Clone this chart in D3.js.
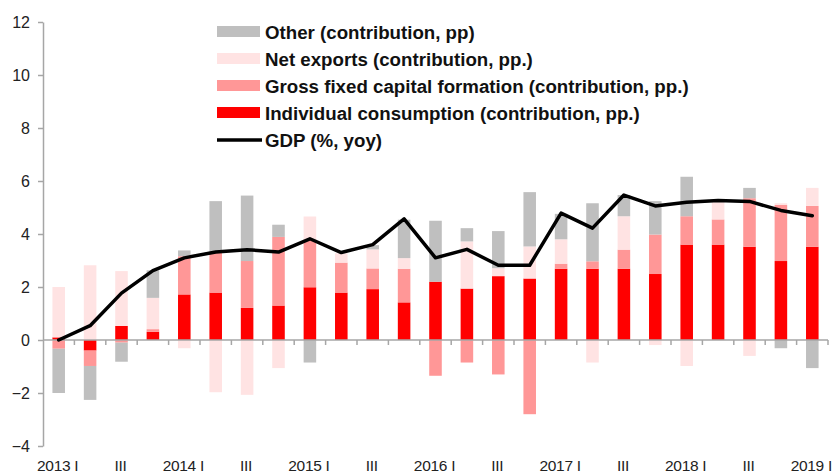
<!DOCTYPE html>
<html>
<head>
<meta charset="utf-8">
<script src="https://cdn.jsdelivr.net/npm/d3@7"></script>
<style>
  body { margin: 0; background: #fff; }
  svg { display: block; font-family: "Liberation Sans", Arial, sans-serif; }
</style>
</head>
<body>
<svg id="chart" width="833" height="476"></svg>
<script>
// quarters 2013 I .. 2019 I
var quarters = ['2013 I', '2013 II', '2013 III', '2013 IV',
    '2014 I', '2014 II', '2014 III', '2014 IV',
    '2015 I', '2015 II', '2015 III', '2015 IV',
    '2016 I', '2016 II', '2016 III', '2016 IV',
    '2017 I', '2017 II', '2017 III', '2017 IV',
    '2018 I', '2018 II', '2018 III', '2018 IV',
    '2019 I'];
var tickLabels = ['2013 I', '', 'III', '', '2014 I', '', 'III', '', '2015 I', '', 'III', '',
    '2016 I', '', 'III', '', '2017 I', '', 'III', '', '2018 I', '', 'III', '', '2019 I'];

var consumption = [0.1, -0.4, 0.53, 0.31, 1.72, 1.79, 1.21, 1.3, 1.99, 1.79, 1.92, 1.42,
    2.2, 1.94, 2.41, 2.32, 2.69, 2.69, 2.69, 2.49, 3.6, 3.6, 3.52, 2.98, 3.52];
var gfcf = [-0.33, -0.58, -0.1, 0.1, 1.44, 1.51, 1.77, 2.59, 1.8, 1.13, 0.78, 1.27,
    -1.35, -0.85, -1.3, -2.8, 0.19, 0.28, 0.72, 1.49, 1.07, 0.95, 1.83, 2.12, 1.54];
var netExports = [1.9, 2.82, 2.07, 1.18, -0.31, -1.97, -2.07, -1.06, 0.87, 0.35, 0.72, 0.4,
    0, 1.78, 0.3, 1.21, 0.92, -0.85, 1.26, -0.19, -0.98, 0.65, -0.6, 0.06, 0.68];
var other = [-1.67, -1.28, -0.72, 1.04, 0.22, 1.94, 2.47, 0.46, -0.85, 0, 0.16, 1.45,
    2.3, 0.5, 1.4, 2.05, 0.96, 2.19, 0.8, 1.26, 1.49, 0, 0.39, -0.31, -1.06];
var gdp = [0.0, 0.54, 1.77, 2.62, 3.1, 3.32, 3.41, 3.32, 3.82, 3.3, 3.6, 4.57,
    3.1, 3.42, 2.82, 2.82, 4.79, 4.22, 5.47, 5.06, 5.2, 5.26, 5.23, 4.89, 4.69];
var yTicks = [-4, -2, 0, 2, 4, 6, 8, 10, 12];

var keys = ['consumption', 'gfcf', 'netExports', 'other'];
var colors = {consumption: '#ff0000', gfcf: '#ff9797', netExports: '#ffe3e3', other: '#bfbfbf'};

var rows = quarters.map(function(q, i) {
    return {q: q, consumption: consumption[i], gfcf: gfcf[i], netExports: netExports[i], other: other[i]};
});

var svg = d3.select('#chart');

var x = d3.scaleBand().domain(quarters).range([43, 828]).paddingInner(0.6).paddingOuter(0.3);
var y = d3.scaleLinear().domain([-4, 12]).range([446, 22]);

var axisColor = '#a6a6a6';

// bars
var series = d3.stack().keys(keys).offset(d3.stackOffsetDiverging)(rows);

svg.append('g')
    .selectAll('g')
    .data(series)
    .enter()
    .append('g')
    .attr('fill', function(d) { return colors[d.key]; })
    .selectAll('rect')
    .data(function(d) { return d; })
    .enter()
    .append('rect')
    .attr('x', function(d) { return x(d.data.q); })
    .attr('width', x.bandwidth())
    .attr('y', function(d) { return y(Math.max(d[0], d[1])); })
    .attr('height', function(d) { return Math.abs(y(d[0]) - y(d[1])); });

// y axis
var yAxis = svg.append('g')
    .attr('transform', 'translate(43,0)')
    .call(d3.axisLeft(y).tickValues(yTicks).tickSize(5).tickSizeOuter(0).tickPadding(8));
yAxis.select('.domain').attr('stroke', axisColor).attr('stroke-width', 1.5);
yAxis.selectAll('.tick line').attr('stroke', axisColor).attr('stroke-width', 1.5);
yAxis.selectAll('text').attr('font-size', 16).attr('fill', '#222')
    .attr('font-family', '"Liberation Sans", Arial, sans-serif');

// x axis at zero, ticks between quarters
var bounds = d3.range(quarters.length + 1).map(function(i) { return 43 + i * (785 / quarters.length); });
var xAxis = svg.append('g');
xAxis.append('line')
    .attr('x1', 43).attr('x2', 828)
    .attr('y1', y(0)).attr('y2', y(0))
    .attr('stroke', axisColor).attr('stroke-width', 1.5);
xAxis.selectAll('.xt')
    .data(bounds.slice(1))
    .enter()
    .append('line')
    .attr('x1', function(d) { return d; }).attr('x2', function(d) { return d; })
    .attr('y1', y(0)).attr('y2', y(0) + 5)
    .attr('stroke', axisColor).attr('stroke-width', 1.5);

svg.append('g')
    .selectAll('text')
    .data(quarters)
    .enter()
    .append('text')
    .attr('x', function(d) { return x(d) + x.bandwidth() / 2 - 1; })
    .attr('y', 471)
    .attr('text-anchor', 'middle')
    .attr('font-size', 15.5)
    .attr('letter-spacing', -0.3)
    .attr('fill', '#222')
    .text(function(d, i) { return tickLabels[i]; });

// GDP line
var line = d3.line()
    .x(function(d, i) { return x(quarters[i]) + x.bandwidth() / 2; })
    .y(function(d) { return y(d); });

svg.append('path')
    .datum(gdp)
    .attr('d', line)
    .attr('fill', 'none')
    .attr('stroke', '#000')
    .attr('stroke-width', 3.5)
    .attr('stroke-linejoin', 'round')
    .attr('stroke-linecap', 'round');

// legend
var legendItems = [
    {label: 'Other (contribution, pp)', color: colors.other, type: 'rect'},
    {label: 'Net exports (contribution, pp.)', color: colors.netExports, type: 'rect'},
    {label: 'Gross fixed capital formation (contribution, pp.)', color: colors.gfcf, type: 'rect'},
    {label: 'Individual consumption (contribution, pp.)', color: colors.consumption, type: 'rect'},
    {label: 'GDP (%, yoy)', color: '#000', type: 'line'}
];

var legend = svg.append('g').attr('transform', 'translate(217,32)');
var li = legend.selectAll('g')
    .data(legendItems)
    .enter()
    .append('g')
    .attr('transform', function(d, i) { return 'translate(0,' + (i * 27) + ')'; });

li.filter(function(d) { return d.type === 'rect'; })
    .append('rect')
    .attr('x', 0).attr('y', -6)
    .attr('width', 43).attr('height', 11)
    .attr('fill', function(d) { return d.color; });

li.filter(function(d) { return d.type === 'line'; })
    .append('line')
    .attr('x1', 0).attr('x2', 45)
    .attr('y1', 0).attr('y2', 0)
    .attr('stroke', '#000').attr('stroke-width', 3.5);

li.append('text')
    .attr('x', 48)
    .attr('y', 0)
    .attr('dy', '0.35em')
    .attr('font-size', 18.7)
    .attr('font-weight', 'bold')
    .attr('fill', '#111')
    .text(function(d) { return d.label; });
</script>
</body>
</html>
